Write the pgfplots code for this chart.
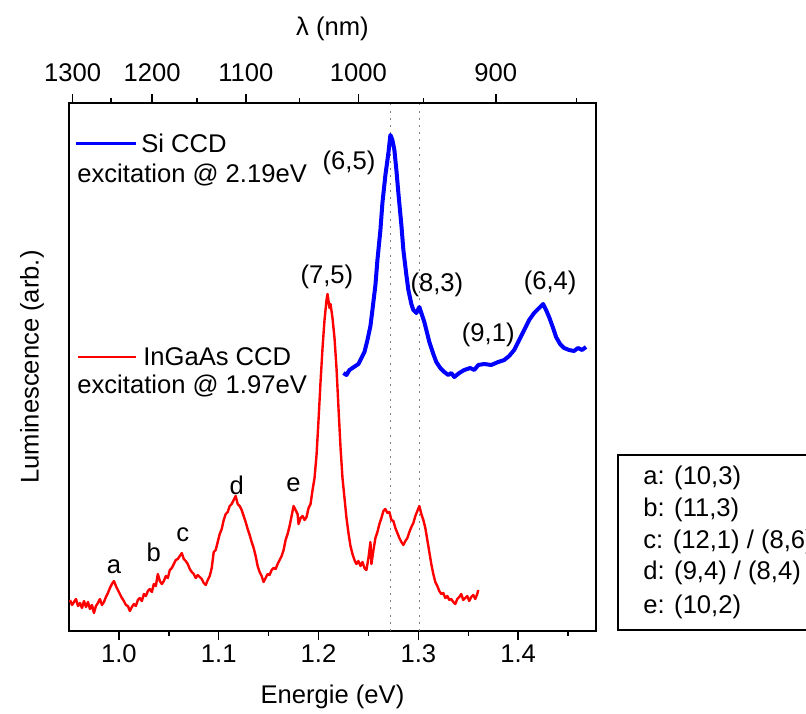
\documentclass[border=0pt]{standalone}
\usepackage{fontspec}
\setmainfont{Liberation Sans}
\usepackage{pgfplots}
\pgfplotsset{compat=1.18}
\begin{document}
\fontsize{12.8}{15}\selectfont
\begin{tikzpicture}
\useasboundingbox (-34.5pt,-41pt) rectangle (368.5pt,315.5pt);
\clip (-34.5pt,-41pt) rectangle (368.5pt,315.5pt);
\begin{axis}[
  at={(0,0)}, anchor=south west,
  scale only axis, width=263.5pt, height=264pt,
  xmin=0.95, xmax=1.478, ymin=-1, ymax=527,
  xtick={1.0,1.1,1.2,1.3,1.4}, xticklabels={1.0,1.1,1.2,1.3,1.4},
  minor xtick={1.05,1.15,1.25,1.35,1.45},
  xtick pos=bottom, ytick=\empty,
  tick align=outside,
  major tick length=4.5pt, minor tick length=2.5pt,
  xticklabel style={anchor=center, yshift=-7pt},
  xlabel={Energie (eV)}, xlabel style={at={(axis description cs:0.5,-0.125)}, anchor=center},
  ylabel={Luminescence (arb.)}, ylabel style={at={(axis description cs:-0.070,0.5)}, anchor=center},
  axis line style={line width=0.75pt},
  every tick/.style={black, line width=0.75pt},
  clip=false,
]
% dotted guide lines
\addplot[gray, line width=0.8pt, dash pattern=on 1pt off 2.6pt] coordinates {(1.272,-1) (1.272,527)};
\addplot[gray, line width=0.8pt, dash pattern=on 1pt off 2.6pt] coordinates {(1.301,-1) (1.301,527)};
% InGaAs CCD (red)
\addplot[red, line width=1.2pt, line join=round] coordinates {
(0.951,30) (0.953,25) (0.955,28) (0.957,31) (0.959,24) (0.961,27) (0.963,22) (0.965,29) (0.967,23) (0.969,28) (0.971,21) (0.973,25) (0.975,17) (0.977,24) (0.979,27)
(0.981,31) (0.983,25) (0.985,28) (0.987,33) (0.989,37) (0.991,42) (0.993,46) (0.995,49) (0.997,44) (0.999,40) (1.001,36) (1.003,32) (1.005,29) (1.007,25) (1.009,24)
(1.011,19) (1.013,23) (1.015,26) (1.017,24) (1.019,30) (1.021,32) (1.023,29) (1.025,36) (1.027,34) (1.029,39) (1.031,41) (1.033,38) (1.035,46) (1.037,44) (1.039,56)
(1.041,49) (1.043,46) (1.045,49) (1.047,54) (1.049,52) (1.051,60) (1.053,62) (1.055,66) (1.057,70) (1.059,71) (1.061,74) (1.063,77) (1.065,71) (1.067,69) (1.069,66)
(1.071,61) (1.073,58) (1.075,56) (1.077,52) (1.079,55) (1.081,53) (1.083,51) (1.085,47) (1.087,45) (1.089,50) (1.091,54) (1.093,62) (1.095,78) (1.097,80) (1.099,88)
(1.101,96) (1.103,101) (1.105,110) (1.107,116) (1.109,118) (1.111,124) (1.113,126) (1.115,130) (1.117,134) (1.119,126) (1.121,124) (1.123,120) (1.125,114) (1.127,108) (1.129,101)
(1.131,95) (1.133,88) (1.135,82) (1.137,74) (1.139,64) (1.141,58) (1.143,54) (1.145,48) (1.147,52) (1.149,56) (1.151,55) (1.153,60) (1.155,62) (1.157,61) (1.159,66)
(1.161,70) (1.163,74) (1.165,80) (1.167,90) (1.169,96) (1.171,104) (1.173,114) (1.175,124) (1.177,120) (1.179,116) (1.180,106) (1.182,112) (1.184,114) (1.186,110) (1.188,113)
(1.190,122) (1.192,126) (1.194,140) (1.196,152) (1.198,175) (1.200,210) (1.202,248) (1.204,282) (1.206,310) (1.208,330) (1.209,336)
(1.211,322) (1.212,326) (1.214,312) (1.216,292) (1.218,262) (1.220,222) (1.222,183) (1.224,152) (1.226,132) (1.228,112) (1.230,97)
(1.232,84) (1.234,76) (1.236,70) (1.238,66) (1.240,69) (1.242,64) (1.244,68) (1.246,62) (1.248,60) (1.250,72) (1.252,88) (1.253,66) (1.255,80) (1.257,92)
(1.259,98) (1.261,106) (1.263,112) (1.265,119) (1.267,121) (1.269,117) (1.271,118) (1.273,110) (1.275,109) (1.277,102)
(1.279,97) (1.281,92) (1.283,88) (1.285,85) (1.287,89) (1.289,92) (1.291,98) (1.293,103) (1.295,107) (1.297,114) (1.299,119) (1.301,124) (1.303,116) (1.305,110)
(1.307,102) (1.309,90) (1.311,78) (1.313,66) (1.315,56) (1.317,48) (1.319,44) (1.321,39) (1.323,36) (1.325,37) (1.327,32) (1.329,34) (1.331,30) (1.333,31)
(1.335,28) (1.337,26) (1.339,31) (1.341,33) (1.343,36) (1.345,30) (1.347,32) (1.349,34) (1.351,29) (1.353,33) (1.355,35) (1.357,31) (1.359,36) (1.360,40)
};
% Si CCD (blue)
\addplot[blue, line width=2pt, line join=round] coordinates {
(1.225,257) (1.228,255) (1.231,260) (1.234,262) (1.237,264) (1.240,266) (1.243,272) (1.246,278) (1.249,290) (1.252,304) (1.254,320) (1.257,345)
(1.259,370) (1.262,400) (1.264,427) (1.267,455) (1.270,477) (1.272,495) (1.274,490) (1.276,480) (1.278,460) (1.280,437)
(1.283,405) (1.285,380) (1.288,355) (1.290,340) (1.293,326) (1.295,320) (1.298,317) (1.301,323) (1.303,317) (1.306,308)
(1.309,296) (1.311,288) (1.315,276) (1.318,268) (1.322,262) (1.326,258) (1.330,255) (1.333,257) (1.336,253) (1.341,257) (1.346,260)
(1.352,262) (1.356,260) (1.360,265) (1.366,266) (1.373,265) (1.380,268) (1.386,270) (1.391,274) (1.396,280) (1.401,290) (1.406,300)
(1.411,310) (1.416,317) (1.421,322) (1.425,326) (1.428,320) (1.431,313) (1.435,302) (1.438,293) (1.442,286) (1.446,282)
(1.451,280) (1.456,279) (1.460,282) (1.464,280) (1.468,283)
};
% legend-like texts
\draw[blue, line width=1.5pt] (axis cs:0.957,487) -- (axis cs:1.017,487);
\node[anchor=west, inner sep=0pt] at (axis cs:1.022,487) {Si CCD};
\node[anchor=west, inner sep=0pt] at (axis cs:0.958,455) {excitation @ 2.19eV};
\draw[red, line width=1pt] (axis cs:0.959,273) -- (axis cs:1.017,273);
\node[anchor=west, inner sep=0pt] at (axis cs:1.024,273) {InGaAs CCD};
\node[anchor=west, inner sep=0pt] at (axis cs:0.958,244) {excitation @ 1.97eV};
% peak labels
\node at (axis cs:1.2305,467) {(6,5)};
\node at (axis cs:1.2084,353) {(7,5)};
\node at (axis cs:1.3186,345) {(8,3)};
\node at (axis cs:1.432,347) {(6,4)};
\node at (axis cs:1.370,295) {(9,1)};
\node at (axis cs:0.995,63) {a};
\node at (axis cs:1.035,78) {b};
\node at (axis cs:1.064,95) {c};
\node at (axis cs:1.118,145) {d};
\node at (axis cs:1.175,145) {e};
\end{axis}
\begin{axis}[
  at={(0,0)}, anchor=south west,
  scale only axis, width=263.5pt, height=264pt,
  xmin=0.95, xmax=1.478, ymin=-1, ymax=527,
  axis x line*=top, axis y line=none,
  xtick={0.95372,1.03320,1.12713,1.23984,1.37760},
  xticklabels={1300,1200,1100,1000,900},
  minor xtick={0.99187,1.07812,1.18080,1.30509,1.45864},
  tick align=outside, major tick length=4.5pt, minor tick length=2.5pt,
  xticklabel style={anchor=center, yshift=10.5pt},
  xlabel={λ (nm)}, xlabel style={at={(axis description cs:0.5,1.14)}, anchor=center},
  axis line style={line width=0.75pt},
  every tick/.style={black, line width=0.75pt},
]
\addplot[draw=none] coordinates {(1.0,0)};
\end{axis}
% assignment box (cut at the right edge)
\draw[line width=0.75pt] (274.5pt,0.5pt) rectangle (400pt,88pt);
\node[anchor=west, inner sep=0pt] at (287pt,76.5pt) {a: (10,3)};
\node[anchor=west, inner sep=0pt] at (287pt,60.5pt) {b: (11,3)};
\node[anchor=west, inner sep=0pt] at (287pt,44.5pt) {c: (12,1) / (8,6)};
\node[anchor=west, inner sep=0pt] at (287pt,29pt) {d: (9,4) / (8,4)};
\node[anchor=west, inner sep=0pt] at (287pt,12pt) {e: (10,2)};
\end{tikzpicture}
\end{document}
